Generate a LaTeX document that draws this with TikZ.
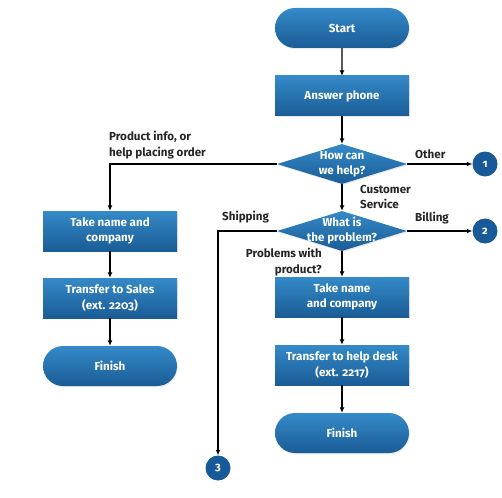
\documentclass[tikz,border=0pt]{standalone}
\usepackage{fontspec}
\setmainfont{Fira Sans}[Numbers=OldStyle]
\usetikzlibrary{shapes.misc,shapes.geometric,arrows.meta,shadows}
\definecolor{btop}{RGB}{52,138,200}
\definecolor{bbot}{RGB}{26,92,150}
\definecolor{cdark}{RGB}{24,90,152}
\tikzset{
  boxbase/.style={top color=btop, bottom color=bbot, draw=none, text=white,
    font=\bfseries\fontsize{11.6}{15.5}\selectfont, align=center, inner sep=0pt,
    drop shadow={opacity=0.18, shadow xshift=0.8pt, shadow yshift=-1.2pt}},
  procbox/.style={boxbase, rectangle, minimum width=134pt, minimum height=40pt},
  termbox/.style={boxbase, rounded rectangle, minimum width=134pt, minimum height=40pt},
  decbox/.style={boxbase, diamond, minimum width=130pt, minimum height=40pt, aspect=3.25},
  dectext/.style={text=white, font=\bfseries\fontsize{11.6}{15}\selectfont, align=center, inner sep=0pt},
  conn/.style={circle, fill=cdark, text=white, minimum size=25pt, inner sep=0pt,
    font=\bfseries\fontsize{11}{12}\selectfont},
  lbl/.style={font=\bfseries\fontsize{11.6}{15.5}\selectfont, text=black!85, inner sep=0pt},
  flow/.style={line width=1.2pt, black, -{Latex[length=5.5pt,width=5pt]}}
}
\begin{document}
\begin{tikzpicture}[x=1pt,y=-1pt]
\useasboundingbox (0,0) rectangle (502,497);
% main column
\node[termbox] (start) at (342,28) {Start};
\node[procbox] (answer) at (342,96) {Answer phone};
\node[decbox] (d1) at (342,164) {};
\node[dectext] (d1t) at (342,164) {How can\\we help?};
\node[decbox] (d2) at (342,231) {};
\node[dectext] (d2t) at (342,231) {What is\\the problem?};
\node[procbox] (h1) at (342,297) {Take name\\and company};
\node[procbox] (h2) at (342,365) {Transfer to help desk\\(ext. 2217)};
\node[termbox] (h3) at (342,433) {Finish};
% left column
\node[procbox] (s1) at (110,231) {Take name and\\company};
\node[procbox] (s2) at (110,298) {Transfer to Sales\\(ext. 2203)};
\node[termbox] (s3) at (110,366) {Finish};
% connectors
\node[conn] (c1) at (485,164) {1};
\node[conn] (c2) at (485,231) {2};
\node[conn] (c3) at (218,468) {3};
% arrows
\draw[flow] (start) -- (answer);
\draw[flow] (answer) -- (d1.north);
\draw[flow] (d1.west) -| (s1.north);
\draw[flow] (d1.east) -- (c1.west);
\draw[flow] (d1.south) -- (d2.north);
\draw[flow] (d2.east) -- (c2.west);
\draw[flow] (d2.west) -| (c3.north);
\draw[flow] (d2.south) -- (h1.north);
\draw[flow] (h1) -- (h2);
\draw[flow] (h2) -- (h3);
\draw[flow] (s1) -- (s2);
\draw[flow] (s2) -- (s3);
% labels
\node[lbl, align=left, anchor=south west] (lprod) at (109,159) {Product info, or\\help placing order};
\node[lbl, anchor=west] (lother) at (415,154) {Other};
\node[lbl, align=left, anchor=west] (lcust) at (360,197) {Customer\\Service};
\node[lbl, anchor=west] (lship) at (222,217) {Shipping};
\node[lbl, anchor=west] (lbill) at (415,218) {Billing};
\node[lbl, align=right, anchor=east] (lprob) at (322,262) {Problems with\\product?};
\end{tikzpicture}
\end{document}
